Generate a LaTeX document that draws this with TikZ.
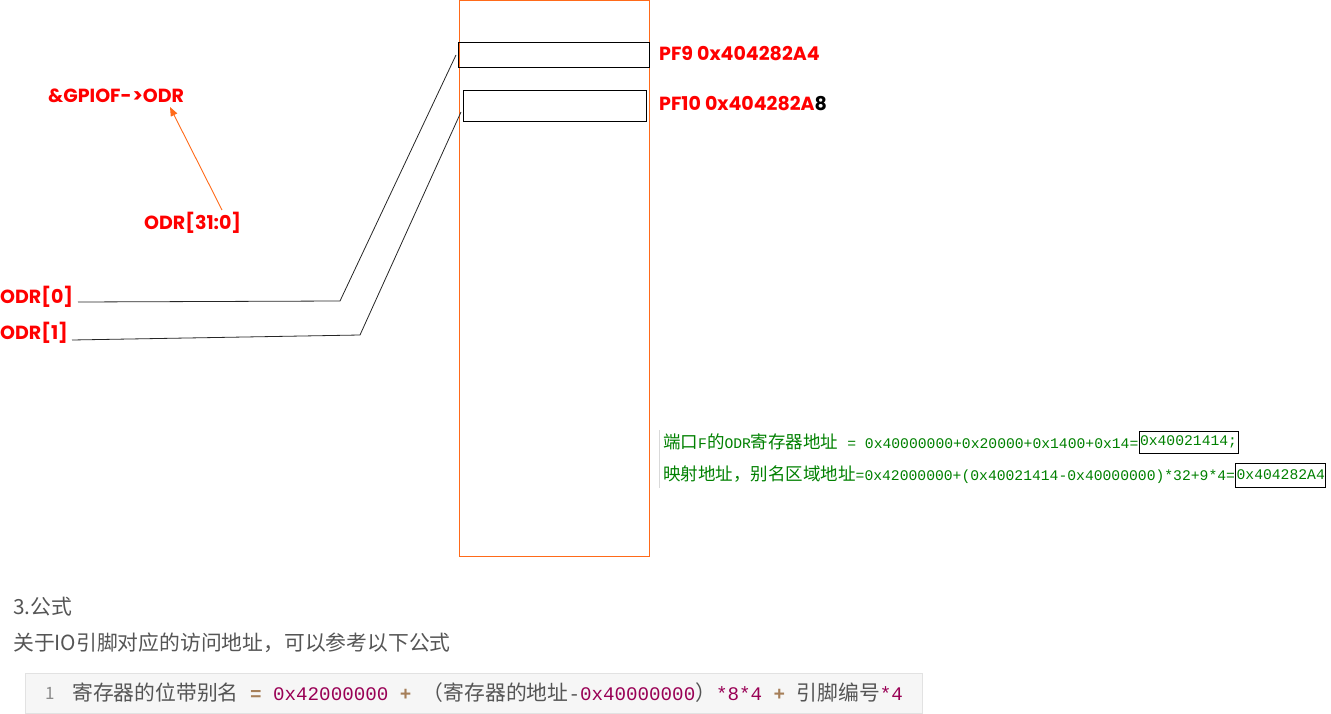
\documentclass[tikz,border=0pt]{standalone}
\usepackage{fontspec}
\usetikzlibrary{arrows.meta}
\newfontfamily\cjk{Noto Sans CJK SC}
\newfontfamily\monof{Liberation Mono}
\newfontfamily\pop{Poppins}[Contextuals={NoAlternate},Ligatures={NoCommon}]
\definecolor{oran}{RGB}{255,106,25}
\definecolor{redt}{RGB}{255,0,0}
\definecolor{grn}{RGB}{0,128,0}
\definecolor{cgray}{RGB}{85,85,85}
\definecolor{cnum}{RGB}{153,0,85}
\definecolor{cop}{RGB}{166,127,89}
\definecolor{codebg}{RGB}{246,246,246}
\definecolor{codebd}{RGB}{226,226,226}
\tikzset{
  redlbl/.style={inner sep=0pt, anchor=west, text=redt, font=\pop\bfseries\fontsize{19}{22}\selectfont},
  grnlbl/.style={inner sep=0pt, anchor=west, text=grn},
  hexbox/.style={draw=black, line width=0.8pt, inner sep=1pt, anchor=west, text=grn, font=\monof\fontsize{14.7}{18}\selectfont},
  bitbox/.style={draw=black, line width=0.8pt},
  wire/.style={draw=black!85, line width=0.8pt},
  plain/.style={inner sep=0pt, anchor=west, text=cgray}
}
\newcommand{\gc}[1]{{\cjk\fontsize{17.5}{20}\selectfont #1}}
\newcommand{\gm}[1]{{\monof\fontsize{14.7}{18}\selectfont #1}}
\newcommand{\kc}[1]{{\cjk\fontsize{20.8}{24}\selectfont\color{cgray}#1}}
\newcommand{\kn}[1]{{\monof\fontsize{19.2}{24}\selectfont\color{cnum}#1}}
\newcommand{\ko}[1]{{\monof\bfseries\fontsize{19.2}{24}\selectfont\color{cop}#1}}
\newcommand{\kg}[1]{{\monof\fontsize{19.2}{24}\selectfont\color{cgray}#1}}
\begin{document}
\begin{tikzpicture}[x=1pt,y=-1pt]
\useasboundingbox (0,0) rectangle (1331,714);
% memory column
\node[draw=oran, line width=0.8pt, minimum width=190pt, minimum height=555pt, inner sep=0pt, anchor=north west] (mem) at (458.5,0.5) {};
\node[bitbox, minimum width=191pt, minimum height=25pt, inner sep=0pt, anchor=north west] (pf9) at (458,42) {};
\node[bitbox, minimum width=183pt, minimum height=31pt, inner sep=0pt, anchor=north west] (pf10) at (463,90) {};
\node[redlbl] (pf9l) at (659,54) {PF9 0x404282A4};
\node[redlbl] (pf10l) at (659,104) {PF10 0x404282A\textcolor{black}{8}};
% ODR labels
\node[redlbl] (godr) at (48,96) {\&GPIOF-\kern1pt>ODR};
\node[redlbl] (odr31) at (144,223) {ODR[31:0]};
\node[redlbl] (odr0) at (0,297) {ODR[0]};
\node[redlbl] (odr1) at (0,333) {ODR[1]};
\coordinate (a0) at (78,302);
\coordinate (b0) at (340,301);
\coordinate (c0) at (456,55);
\coordinate (a1) at (72,340);
\coordinate (b1) at (360,335);
\coordinate (c1) at (461,112);
\draw[wire] (a0) -- (b0) -- (c0);
\draw[wire] (a1) -- (b1) -- (c1);
\coordinate (arS) at (222,210);
\coordinate (arE) at (170,107);
\draw[oran, line width=0.9pt, -{Triangle[length=9pt,width=7pt]}] (arS) -- (arE);
% green notes
\draw[black!15, line width=1pt] (659.5,430) -- (659.5,488);
\node[grnlbl] (g1) at (663,442) {\gc{端口}\gm{F}\gc{的}\gm{ODR}\gc{寄存器地址}\gm{ = 0x40000000+0x20000+0x1400+0x14=}};
\node[hexbox, minimum height=22pt] (g1b) at (g1.east) {0x40021414;};
\node[grnlbl] (g2) at (663,475) {\gc{映射地址，别名区域地址}\gm{=0x42000000+(0x40021414-0x40000000)*32+9*4=}};
\node[hexbox, minimum height=24pt] (g2b) at (g2.east) {0x404282A4};
% bottom text
\node[plain, font=\cjk\fontsize{20.8}{24}\selectfont] (h3) at (13,607) {3.公式};
\node[plain, font=\cjk\fontsize{20.8}{24}\selectfont] (intro) at (13,643) {关于IO引脚对应的访问地址，可以参考以下公式};
\node[draw=codebd, fill=codebg, line width=1pt, minimum width=897pt, minimum height=40pt, inner sep=0pt, anchor=north west] (code) at (25,673) {};
\node[plain, text=black!45, font=\cjk\fontsize{17}{20}\selectfont] (ln) at (45,693) {1};
\node[plain] (codetxt) at (72,693) {\kc{寄存器的位带别名}\ko{~=~}\kn{0x42000000}\ko{~+~}\kc{（寄存器的地址}\kg{-}\kn{0x40000000}\kc{）}\kn{*8*4}\ko{~+~}\kc{引脚编号}\kn{*4}};
\end{tikzpicture}
\end{document}
